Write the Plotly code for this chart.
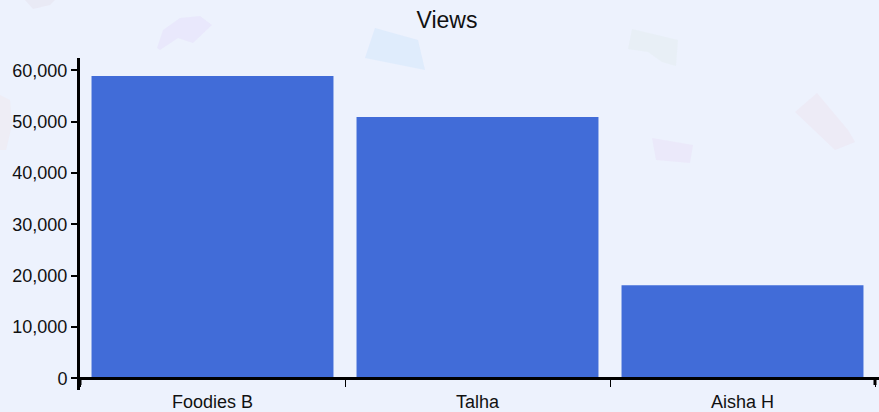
import plotly.graph_objects as go

categories = ["Foodies B", "Talha", "Aisha H"]
views = [58900, 50900, 18100]
y_ticks = [0, 10000, 20000, 30000, 40000, 50000, 60000]

W, H = 879, 412
ML, MR, MT, MB = 80, 0, 58, 22
Y_MIN, Y_MAX = -2300, 62400
X_MIN = -0.5
X_MAX = -0.5 + (W - ML - MR) / 265.0

BG = "#EDF2FD"
BAR = "#416CD8"
FONT = "Arial, Liberation Sans, sans-serif"

fig = go.Figure()
fig.add_trace(go.Bar(x=categories, y=views, marker=dict(color=BAR, line=dict(width=0)),
                     width=0.913, hoverinfo="x+y"))

pw, ph = W - ML - MR, H - MT - MB


def px2paper(pts):
    return [((x - ML) / pw, (H - MB - y) / ph) for x, y in pts]


def path(pts):
    p = px2paper(pts)
    s = "M %.4f %.4f" % p[0]
    for q in p[1:]:
        s += " L %.4f %.4f" % q
    return s + " Z"

# faint decorative confetti in the background
confetti = [
    ([(25, 0), (55, 0), (50, 5), (33, 9)], "rgba(225,215,230,0.3)"),
    ([(157, 48), (163, 30), (180, 18), (200, 16), (212, 25), (193, 43), (178, 38), (160, 50)], "rgba(228,218,250,0.4)"),
    ([(375, 28), (418, 40), (425, 70), (365, 58)], "rgba(215,232,252,0.65)"),
    ([(632, 29), (678, 40), (676, 66), (662, 62), (648, 52), (628, 49)], "rgba(228,236,240,0.55)"),
    ([(652, 138), (693, 145), (690, 163), (656, 160)], "rgba(234,225,248,0.55)"),
    ([(795, 112), (817, 93), (848, 130), (855, 142), (835, 150)], "rgba(238,228,240,0.5)"),
    ([(0, 95), (10, 100), (12, 125), (6, 150), (0, 150)], "rgba(240,232,238,0.5)"),
]
shapes = []
for pts, col in confetti:
    shapes.append(dict(type="path", xref="paper", yref="paper", path=path(pts),
                       fillcolor=col, line=dict(width=0), layer="below"))

# thick outer ticks at the x-axis ends
for xv in (-0.5, 2.5):
    shapes.append(dict(type="line", xref="x", yref="paper", x0=xv, x1=xv,
                       y0=(H - MB - 378) / ph, y1=(H - MB - 385) / ph,
                       line=dict(color="black", width=3), layer="above"))

fig.update_layout(
    width=W, height=H,
    margin=dict(l=ML, r=MR, t=MT, b=MB, pad=0),
    paper_bgcolor=BG, plot_bgcolor="rgba(0,0,0,0)",
    font=dict(family=FONT, size=18, color="#111111"),
    title=dict(text="Views", x=447 / W, xanchor="center", xref="container",
               y=1 - 20 / H, yref="container", yanchor="middle",
               font=dict(size=23, color="#111111")),
    showlegend=False,
    shapes=shapes,
    bargap=0.087,
    xaxis=dict(range=[X_MIN, X_MAX], showgrid=False, zeroline=False,
               showline=True, linecolor="black", linewidth=3,
               ticks="outside", tickson="boundaries", ticklen=7, tickwidth=1,
               tickcolor="black", anchor="free",
               position=(0 - Y_MIN) / (Y_MAX - Y_MIN),
               ticklabelstandoff=6,
               tickfont=dict(size=18), fixedrange=True),
    yaxis=dict(range=[Y_MIN, Y_MAX], showgrid=False, zeroline=False,
               showline=True, linecolor="black", linewidth=3,
               ticks="outside", ticklen=6, tickwidth=2, tickcolor="black",
               tickvals=y_ticks, tickformat=",d", tickfont=dict(size=18),
               fixedrange=True),
)

fig.write_html("out.html")
